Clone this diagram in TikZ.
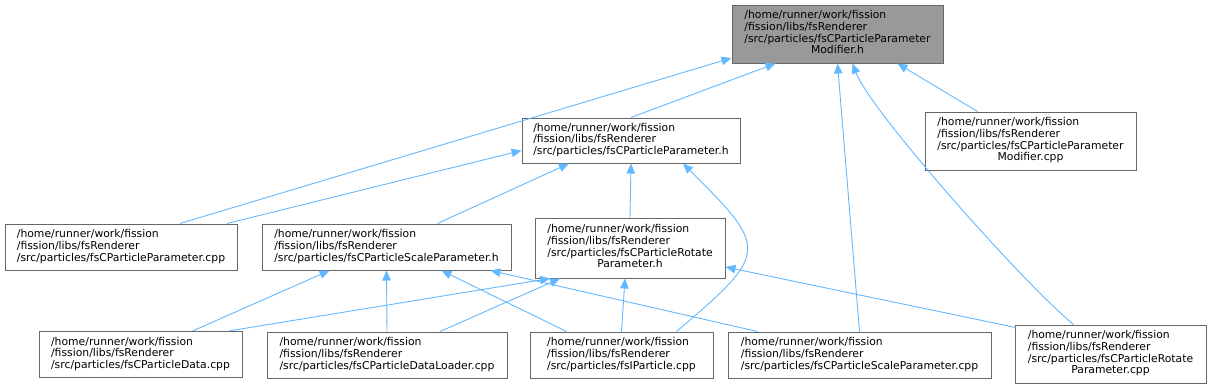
\documentclass[tikz,border=0pt]{standalone}
\usepackage{fontspec}
\setmainfont{DejaVu Sans}
\usetikzlibrary{arrows.meta}
\definecolor{edgeblue}{HTML}{63B8FF}
\definecolor{boxgrey}{HTML}{666666}
\definecolor{topgrey}{HTML}{999999}
\newcommand\fpath[1]{\begin{tabular}{@{}l@{}}#1\end{tabular}}
\newcommand\lastc[1]{\multicolumn{1}{@{}c@{}}{#1}}

\begin{document}
\begin{tikzpicture}[
  x=1pt, y=-1pt,
  >={Triangle[length=10pt,width=8.5pt]},
  file/.style={draw=boxgrey, line width=1pt, fill=white, inner sep=0pt,
    font=\fontsize{10.8}{11.7}\selectfont},
  topfile/.style={file, fill=topgrey},
  dep/.style={<-, draw=edgeblue, line width=0.9pt}
]
\useasboundingbox (0,0) rectangle (1211,389);

% the included header
\node[topfile, minimum width=211pt, minimum height=58pt] (mod) at (837.5,34)
  {\fpath{/home/runner/work/fission\\/fission/libs/fsRenderer\\/src/particles/fsCParticleParameter\\\lastc{Modifier.h}}};

% second and third level
\node[file, minimum width=218pt, minimum height=45pt] (param) at (631,140.5)
  {\fpath{/home/runner/work/fission\\/fission/libs/fsRenderer\\/src/particles/fsCParticleParameter.h}};
\node[file, minimum width=211pt, minimum height=58pt] (modcpp) at (1030.5,141)
  {\fpath{/home/runner/work/fission\\/fission/libs/fsRenderer\\/src/particles/fsCParticleParameter\\\lastc{Modifier.cpp}}};
\node[file, minimum width=232pt, minimum height=46pt] (pcpp) at (121,247)
  {\fpath{/home/runner/work/fission\\/fission/libs/fsRenderer\\/src/particles/fsCParticleParameter.cpp}};
\node[file, minimum width=249pt, minimum height=46pt] (scaleh) at (386.5,247)
  {\fpath{/home/runner/work/fission\\/fission/libs/fsRenderer\\/src/particles/fsCParticleScaleParameter.h}};
\node[file, minimum width=190pt, minimum height=60pt] (roth) at (630,248)
  {\fpath{/home/runner/work/fission\\/fission/libs/fsRenderer\\/src/particles/fsCParticleRotate\\\lastc{Parameter.h}}};

% bottom row
\node[file, minimum width=203pt, minimum height=46pt] (data) at (140.5,354.5)
  {\fpath{/home/runner/work/fission\\/fission/libs/fsRenderer\\/src/particles/fsCParticleData.cpp}};
\node[file, minimum width=240pt, minimum height=46pt] (loader) at (387,355)
  {\fpath{/home/runner/work/fission\\/fission/libs/fsRenderer\\/src/particles/fsCParticleDataLoader.cpp}};
\node[file, minimum width=183pt, minimum height=46pt] (ipart) at (621.5,355)
  {\fpath{/home/runner/work/fission\\/fission/libs/fsRenderer\\/src/particles/fsIParticle.cpp}};
\node[file, minimum width=263pt, minimum height=46pt] (scalecpp) at (859.5,355)
  {\fpath{/home/runner/work/fission\\/fission/libs/fsRenderer\\/src/particles/fsCParticleScaleParameter.cpp}};
\node[file, minimum width=191pt, minimum height=58pt] (rotcpp) at (1110.5,354)
  {\fpath{/home/runner/work/fission\\/fission/libs/fsRenderer\\/src/particles/fsCParticleRotate\\\lastc{Parameter.cpp}}};

% edges into the modifier header
\draw[dep] ([yshift=-24pt]mod.west) -- ([xshift=59pt]pcpp.north);
\draw[dep] ([xshift=-62pt]mod.south) -- (param.north);
\draw[dep] (mod.south) -- (scalecpp.north);
\draw[dep] ([xshift=15pt]mod.south) .. controls (870,110) and (1020,280) .. ([xshift=-37pt]rotcpp.north);
\draw[dep] ([xshift=60pt]mod.south) -- ([xshift=-53pt]modcpp.north);

% edges into fsCParticleParameter.h
\draw[dep] ([yshift=-10pt]param.west) -- ([xshift=106pt]pcpp.north);
\draw[dep] ([xshift=-62pt]param.south) -- ([xshift=51pt]scaleh.north);
\draw[dep] (param.south) -- (roth.north);
\draw[dep] ([xshift=52pt]param.south) .. controls (769,249) and (769,253) .. ([xshift=55pt]ipart.north);

% edges into fsCParticleScaleParameter.h
\draw[dep] ([xshift=-57pt]scaleh.south) -- ([xshift=52pt]data.north);
\draw[dep] (scaleh.south) -- (loader.north);
\draw[dep] ([xshift=55pt]scaleh.south) -- ([xshift=-55pt]ipart.north);
\draw[dep] ([xshift=104pt]scaleh.south) -- ([xshift=-102pt]scalecpp.north);

% edges into fsCParticleRotateParameter.h
\draw[dep] ([xshift=-80pt]roth.south) -- ([xshift=88pt]data.north);
\draw[dep] ([xshift=-70pt]roth.south) -- ([xshift=53pt]loader.north);
\draw[dep] ([xshift=-5pt]roth.south) -- (ipart.north);
\draw[dep] ([yshift=-19pt]roth.east) -- ([xshift=1pt,yshift=-3pt]rotcpp.north west);

\end{tikzpicture}
\end{document}
